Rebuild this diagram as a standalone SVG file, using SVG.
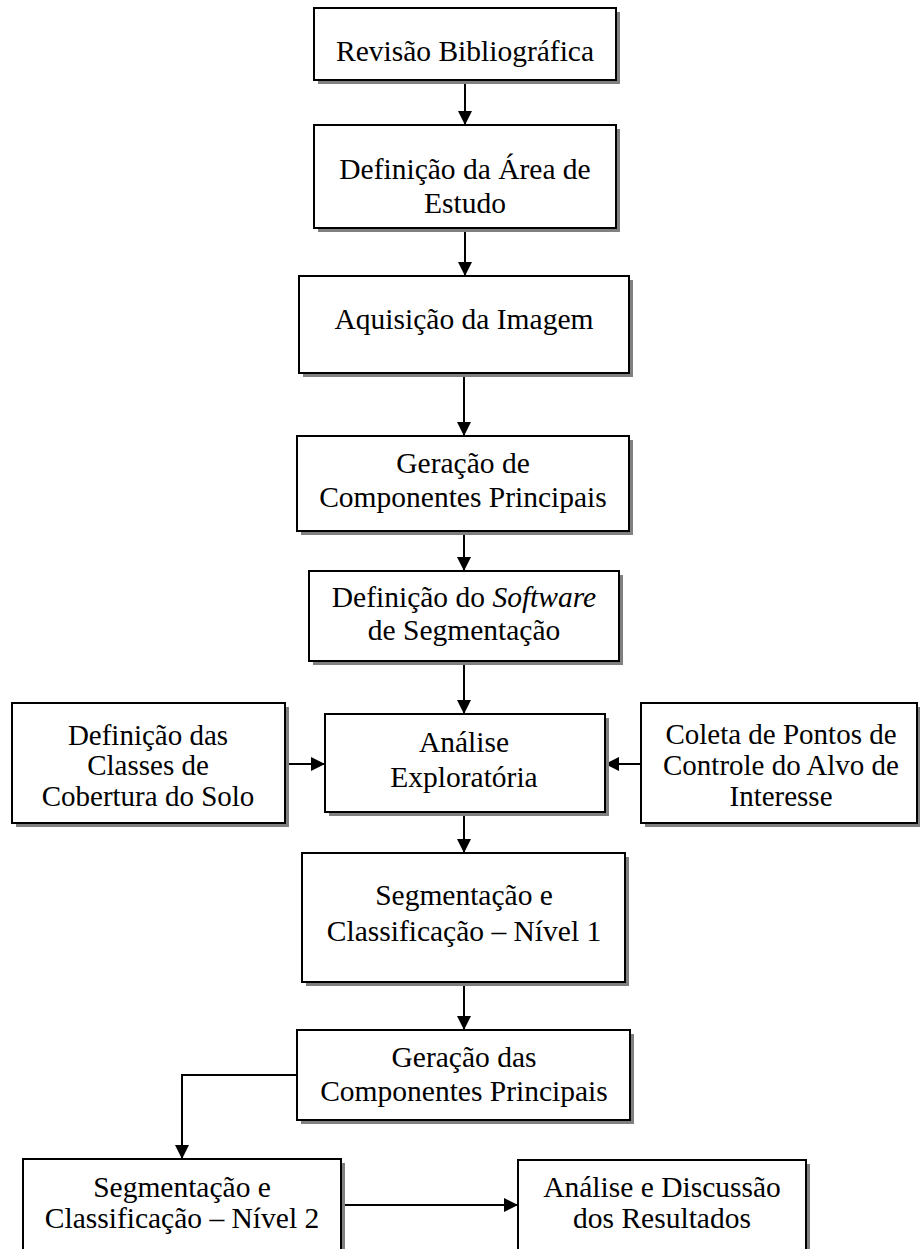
<svg xmlns="http://www.w3.org/2000/svg" width="920" height="1249" viewBox="0 0 920 1249">
<defs>
<style>
.sh{fill:#808080;stroke:none}
.bx{fill:#fff;stroke:#000;stroke-width:2}
.t{font-family:"Liberation Serif","Times New Roman",serif;font-size:29.5px;fill:#000;text-anchor:middle}
.s{font-size:29px}
.c{fill:none;stroke:#000;stroke-width:2}
</style>
<marker id="ah" markerUnits="userSpaceOnUse" markerWidth="14" markerHeight="14" viewBox="0 0 14 14" refX="14" refY="7" orient="auto">
<path d="M0,0 L14,7 L0,14 Z" fill="#000"/>
</marker>
</defs>
<rect width="920" height="1249" fill="#fff"/>
<g id="connectors">
<line class="c" x1="465" y1="80" x2="465" y2="125" marker-end="url(#ah)"/>
<line class="c" x1="465" y1="228" x2="465" y2="276" marker-end="url(#ah)"/>
<line class="c" x1="464" y1="373" x2="464" y2="436" marker-end="url(#ah)"/>
<line class="c" x1="464" y1="531" x2="464" y2="571" marker-end="url(#ah)"/>
<line class="c" x1="464" y1="661" x2="464" y2="714" marker-end="url(#ah)"/>
<line class="c" x1="285" y1="764" x2="325" y2="764" marker-end="url(#ah)"/>
<line class="c" x1="641" y1="764" x2="605" y2="764" marker-end="url(#ah)"/>
<line class="c" x1="464" y1="812" x2="464" y2="853" marker-end="url(#ah)"/>
<line class="c" x1="464" y1="982" x2="464" y2="1030" marker-end="url(#ah)"/>
<polyline class="c" points="297,1075 182,1075 182,1159" marker-end="url(#ah)"/>
<line class="c" x1="341" y1="1205" x2="518" y2="1205" marker-end="url(#ah)"/>
</g>
<g id="n1">
<rect class="sh" x="318" y="12" width="302" height="72"/>
<rect class="bx" x="314" y="8" width="302" height="72"/>
<text class="t" x="465" y="61">Revisão Bibliográfica</text>
</g>
<g id="n2">
<rect class="sh" x="318" y="129" width="302" height="103"/>
<rect class="bx" x="314" y="125" width="302" height="103"/>
<text class="t" x="465" y="179">Definição da Área de</text>
<text class="t" x="465" y="213">Estudo</text>
</g>
<g id="n3">
<rect class="sh" x="303" y="280" width="330" height="97"/>
<rect class="bx" x="299" y="276" width="330" height="97"/>
<text class="t" x="464" y="329">Aquisição da Imagem</text>
</g>
<g id="n4">
<rect class="sh" x="301" y="440" width="332" height="95"/>
<rect class="bx" x="297" y="436" width="332" height="95"/>
<text class="t" x="463" y="473">Geração de</text>
<text class="t" x="463" y="507">Componentes Principais</text>
</g>
<g id="n5">
<rect class="sh" x="313" y="575" width="310" height="90"/>
<rect class="bx" x="309" y="571" width="310" height="90"/>
<text class="t" x="464" y="607">Definição do <tspan font-style="italic">Software</tspan></text>
<text class="t" x="464" y="640">de Segmentação</text>
</g>
<g id="n6">
<rect class="sh" x="329" y="718" width="280" height="98"/>
<rect class="bx" x="325" y="714" width="280" height="98"/>
<text class="t" x="464" y="752">Análise</text>
<text class="t" x="464" y="787">Exploratória</text>
</g>
<g id="n7">
<rect class="sh" x="16" y="707" width="273" height="120"/>
<rect class="bx" x="12" y="703" width="273" height="120"/>
<text class="t s" x="148" y="745">Definição das</text>
<text class="t s" x="148" y="775">Classes de</text>
<text class="t s" x="148" y="806">Cobertura do Solo</text>
</g>
<g id="n8">
<rect class="sh" x="645" y="707" width="276" height="120"/>
<rect class="bx" x="641" y="703" width="276" height="120"/>
<text class="t s" x="781" y="744">Coleta de Pontos de</text>
<text class="t s" x="781" y="775">Controle do Alvo de</text>
<text class="t s" x="781" y="806">Interesse</text>
</g>
<g id="n9">
<rect class="sh" x="306" y="857" width="323" height="129"/>
<rect class="bx" x="302" y="853" width="323" height="129"/>
<text class="t" x="464" y="905">Segmentação e</text>
<text class="t" x="464" y="941">Classificação – Nível 1</text>
</g>
<g id="n10">
<rect class="sh" x="301" y="1034" width="333" height="90"/>
<rect class="bx" x="297" y="1030" width="333" height="90"/>
<text class="t" x="464" y="1067">Geração das</text>
<text class="t" x="464" y="1101">Componentes Principais</text>
</g>
<g id="n11">
<rect class="sh" x="27" y="1163" width="318" height="100"/>
<rect class="bx" x="23" y="1159" width="318" height="100"/>
<text class="t" x="182" y="1197">Segmentação e</text>
<text class="t" x="182" y="1228">Classificação – Nível 2</text>
</g>
<g id="n12">
<rect class="sh" x="522" y="1164" width="288" height="100"/>
<rect class="bx" x="518" y="1160" width="288" height="100"/>
<text class="t" x="662" y="1197">Análise e Discussão</text>
<text class="t" x="662" y="1228">dos Resultados</text>
</g>
</svg>
